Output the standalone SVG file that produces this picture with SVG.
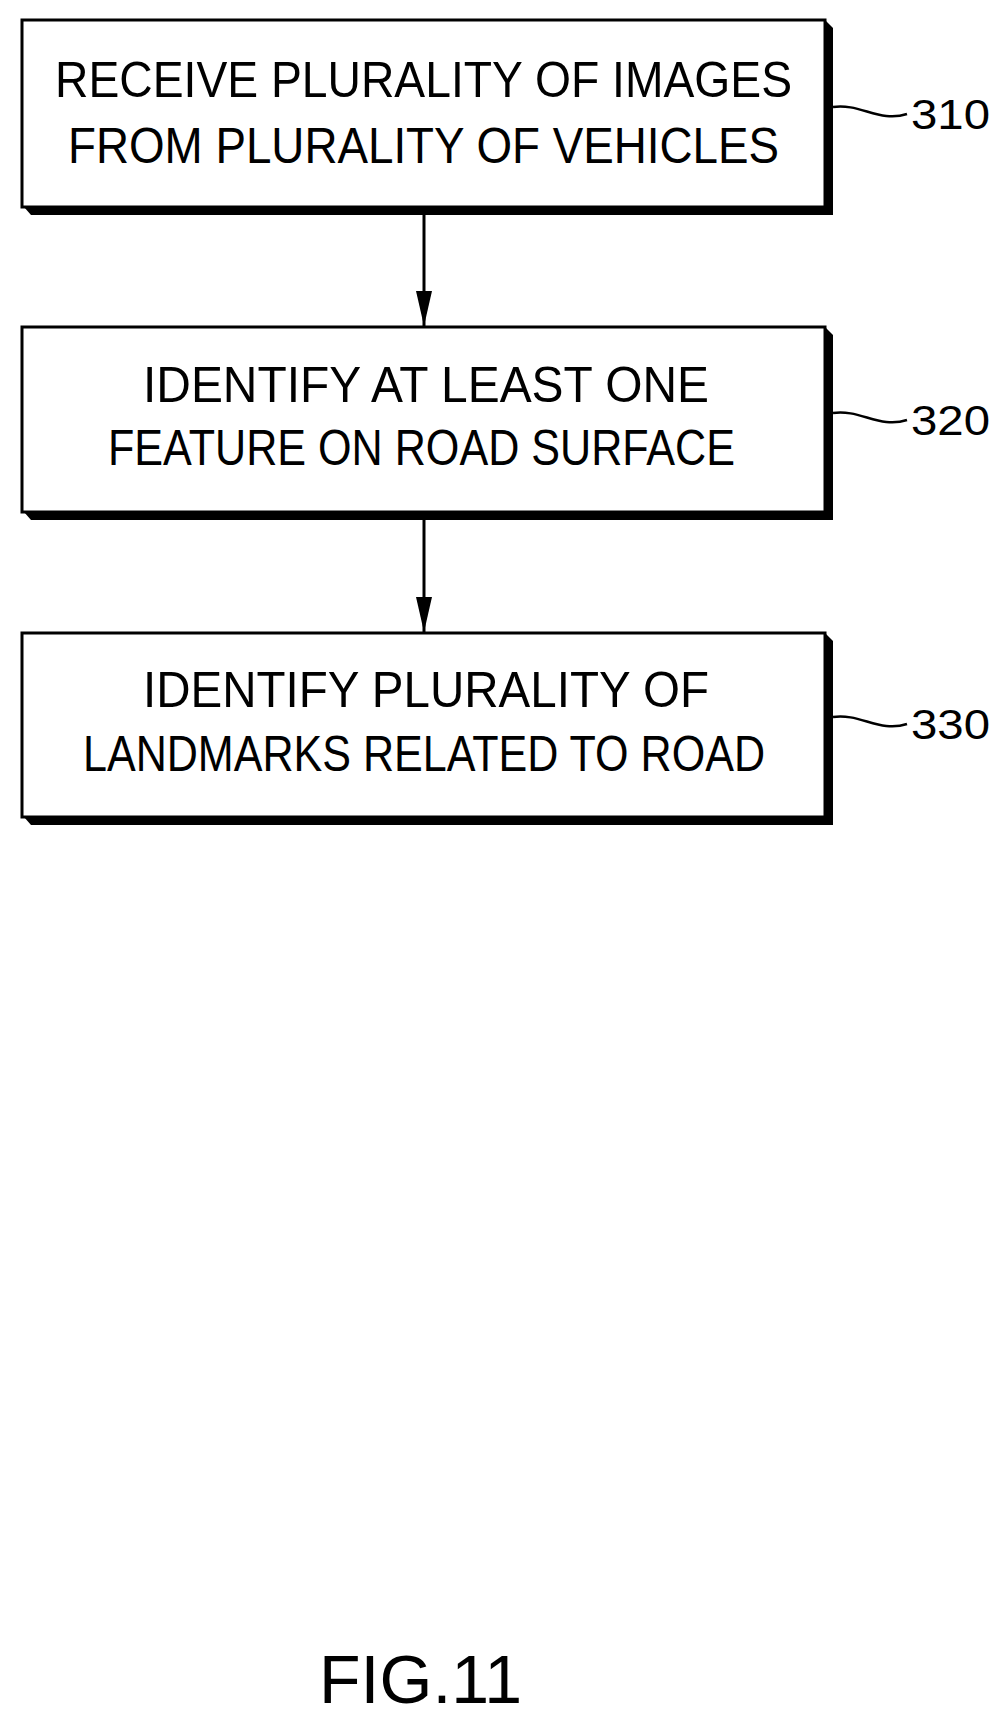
<svg xmlns="http://www.w3.org/2000/svg" width="1003" height="1715" viewBox="0 0 1003 1715">
<style>
.box{fill:#fff;stroke:#000;stroke-width:3}
.sh{fill:#000}
.t{font-family:"Liberation Sans",Arial,sans-serif;font-size:50px;fill:#000}
.lbl{font-family:"Liberation Sans",Arial,sans-serif;font-size:42px;fill:#000}
.ln{fill:none;stroke:#000;stroke-width:2.5}
</style>
<defs><marker id="ah" markerWidth="35" markerHeight="16" refX="35" refY="8" orient="auto" markerUnits="userSpaceOnUse" viewBox="0 0 35 16"><path d="M0,0 L35,8 L0,16 Z" fill="#000"/></marker></defs>
<rect width="1003" height="1715" fill="#fff"/>
<g id="n310">
<path class="sh" d="M24,207 L31,215 L833,215 L833,28 L825,20 L825,207 Z"/>
<rect class="box" x="22" y="20" width="803" height="187"/>
<text class="t" x="55" y="97" textLength="737" lengthAdjust="spacingAndGlyphs">RECEIVE PLURALITY OF IMAGES</text>
<text class="t" x="68" y="163" textLength="711" lengthAdjust="spacingAndGlyphs">FROM PLURALITY OF VEHICLES</text>
<path class="ln" d="M833,107 C860,103 880,123 907,114"/>
<text class="lbl" x="911" y="129" textLength="79" lengthAdjust="spacingAndGlyphs">310</text>
</g>
<g id="n320">
<path class="sh" d="M24,512 L31,520 L833,520 L833,335 L825,327 L825,512 Z"/>
<rect class="box" x="22" y="327" width="803" height="185"/>
<text class="t" x="143" y="402" textLength="566" lengthAdjust="spacingAndGlyphs">IDENTIFY AT LEAST ONE</text>
<text class="t" x="108" y="465" textLength="627" lengthAdjust="spacingAndGlyphs">FEATURE ON ROAD SURFACE</text>
<path class="ln" d="M833,413 C860,409 880,429 907,420"/>
<text class="lbl" x="911" y="435" textLength="79" lengthAdjust="spacingAndGlyphs">320</text>
</g>
<g id="n330">
<path class="sh" d="M24,817 L31,825 L833,825 L833,641 L825,633 L825,817 Z"/>
<rect class="box" x="22" y="633" width="803" height="184"/>
<text class="t" x="143" y="707" textLength="566" lengthAdjust="spacingAndGlyphs">IDENTIFY PLURALITY OF</text>
<text class="t" x="83" y="771" textLength="682" lengthAdjust="spacingAndGlyphs">LANDMARKS RELATED TO ROAD</text>
<path class="ln" d="M833,717 C860,713 880,733 907,724"/>
<text class="lbl" x="911" y="739" textLength="79" lengthAdjust="spacingAndGlyphs">330</text>
</g>
<g id="connectors">
<line x1="424" y1="215" x2="424" y2="326" stroke="#000" stroke-width="3" marker-end="url(#ah)"/>
<line x1="424" y1="520" x2="424" y2="632" stroke="#000" stroke-width="3" marker-end="url(#ah)"/>
</g>
<text x="319" y="1703" font-family="Liberation Sans,Arial,sans-serif" font-size="68" textLength="203" lengthAdjust="spacing">FIG.11</text>
</svg>
